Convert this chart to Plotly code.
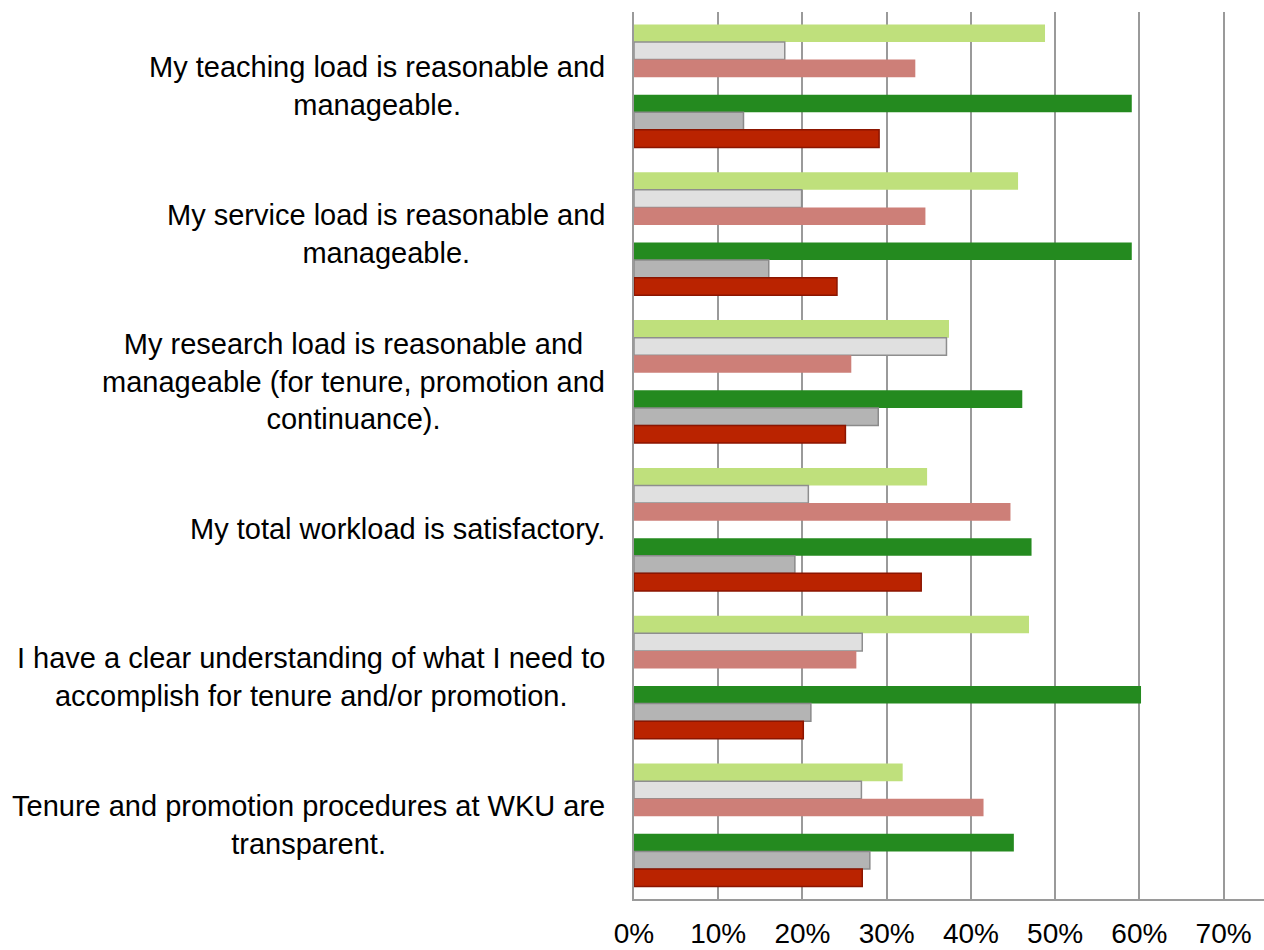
import plotly.graph_objects as go

categories = [
    "My teaching load is reasonable and<br>manageable.",
    "My service load is reasonable and<br>manageable.",
    "My research load is reasonable and<br>manageable (for tenure, promotion and<br>continuance).",
    "My total workload is satisfactory.",
    "I have a clear understanding of what I need to<br>accomplish for tenure and/or promotion.",
    "Tenure and promotion procedures at WKU are<br>transparent.",
]

series_a_agree = [0.488, 0.456, 0.374, 0.348, 0.469, 0.319]
series_a_neutral = [0.179, 0.199, 0.371, 0.207, 0.271, 0.270]
series_a_disagree = [0.334, 0.346, 0.258, 0.447, 0.264, 0.415]
series_b_agree = [0.591, 0.591, 0.461, 0.472, 0.602, 0.451]
series_b_neutral = [0.130, 0.160, 0.290, 0.191, 0.210, 0.280]
series_b_disagree = [0.291, 0.241, 0.251, 0.341, 0.201, 0.271]

tick_vals = [0, 0.1, 0.2, 0.3, 0.4, 0.5, 0.6, 0.7]
tick_text = ["0%", "10%", "20%", "30%", "40%", "50%", "60%", "70%"]

FONT = "Liberation Sans, Arial, Helvetica, sans-serif"

series = [
    ("A agree", series_a_agree, "#bfe07c", "#bfe07c", 0),
    ("A neutral", series_a_neutral, "#e0e0e0", "#8e8e8e", 1.5),
    ("A disagree", series_a_disagree, "#cd7f78", "#cd7f78", 0),
    ("gap", [None] * len(categories), "rgba(0,0,0,0)", "rgba(0,0,0,0)", 0),
    ("B agree", series_b_agree, "#248a1f", "#248a1f", 0),
    ("B neutral", series_b_neutral, "#b4b4b4", "#8a8a8a", 1.5),
    ("B disagree", series_b_disagree, "#ba2300", "#8b1500", 1.5),
]

fig = go.Figure()
for name, vals, fill, line, lw in series:
    fig.add_trace(go.Bar(
        name=name, y=categories, x=vals, orientation="h",
        marker=dict(color=fill, line=dict(color=line, width=lw)),
        showlegend=False, hoverinfo="x+y",
    ))

for c in categories:
    fig.add_annotation(
        x=0, xref="paper", y=c, yref="y", text=c, showarrow=False,
        xanchor="right", yanchor="middle", align="center", xshift=-27,
        font=dict(family=FONT, size=29, color="#000000"),
    )

fig.update_layout(
    width=1264, height=950,
    margin=dict(l=634, r=0, t=12, b=51, autoexpand=False),
    paper_bgcolor="white", plot_bgcolor="white",
    barmode="group", bargap=0.168, bargroupgap=0,
    font=dict(family=FONT, size=28, color="#000000"),
)
fig.update_xaxes(
    range=[0, 0.748], tickvals=tick_vals, ticktext=tick_text,
    showgrid=True, gridcolor="#9a9a9a", gridwidth=2,
    showline=True, linecolor="#9a9a9a", linewidth=2,
    zeroline=False, ticks="", ticklabelstandoff=8, automargin=False,
    tickfont=dict(family=FONT, size=28, color="#000000"),
    fixedrange=True,
)
fig.update_yaxes(
    autorange="reversed", showticklabels=False, showgrid=False,
    showline=True, linecolor="#9a9a9a", linewidth=2, ticks="",
    automargin=False, fixedrange=True,
)

fig.write_html(
    "out.html",
    config={"displayModeBar": False},
    post_script="document.body.style.margin='0';document.body.style.overflow='hidden';",
)
